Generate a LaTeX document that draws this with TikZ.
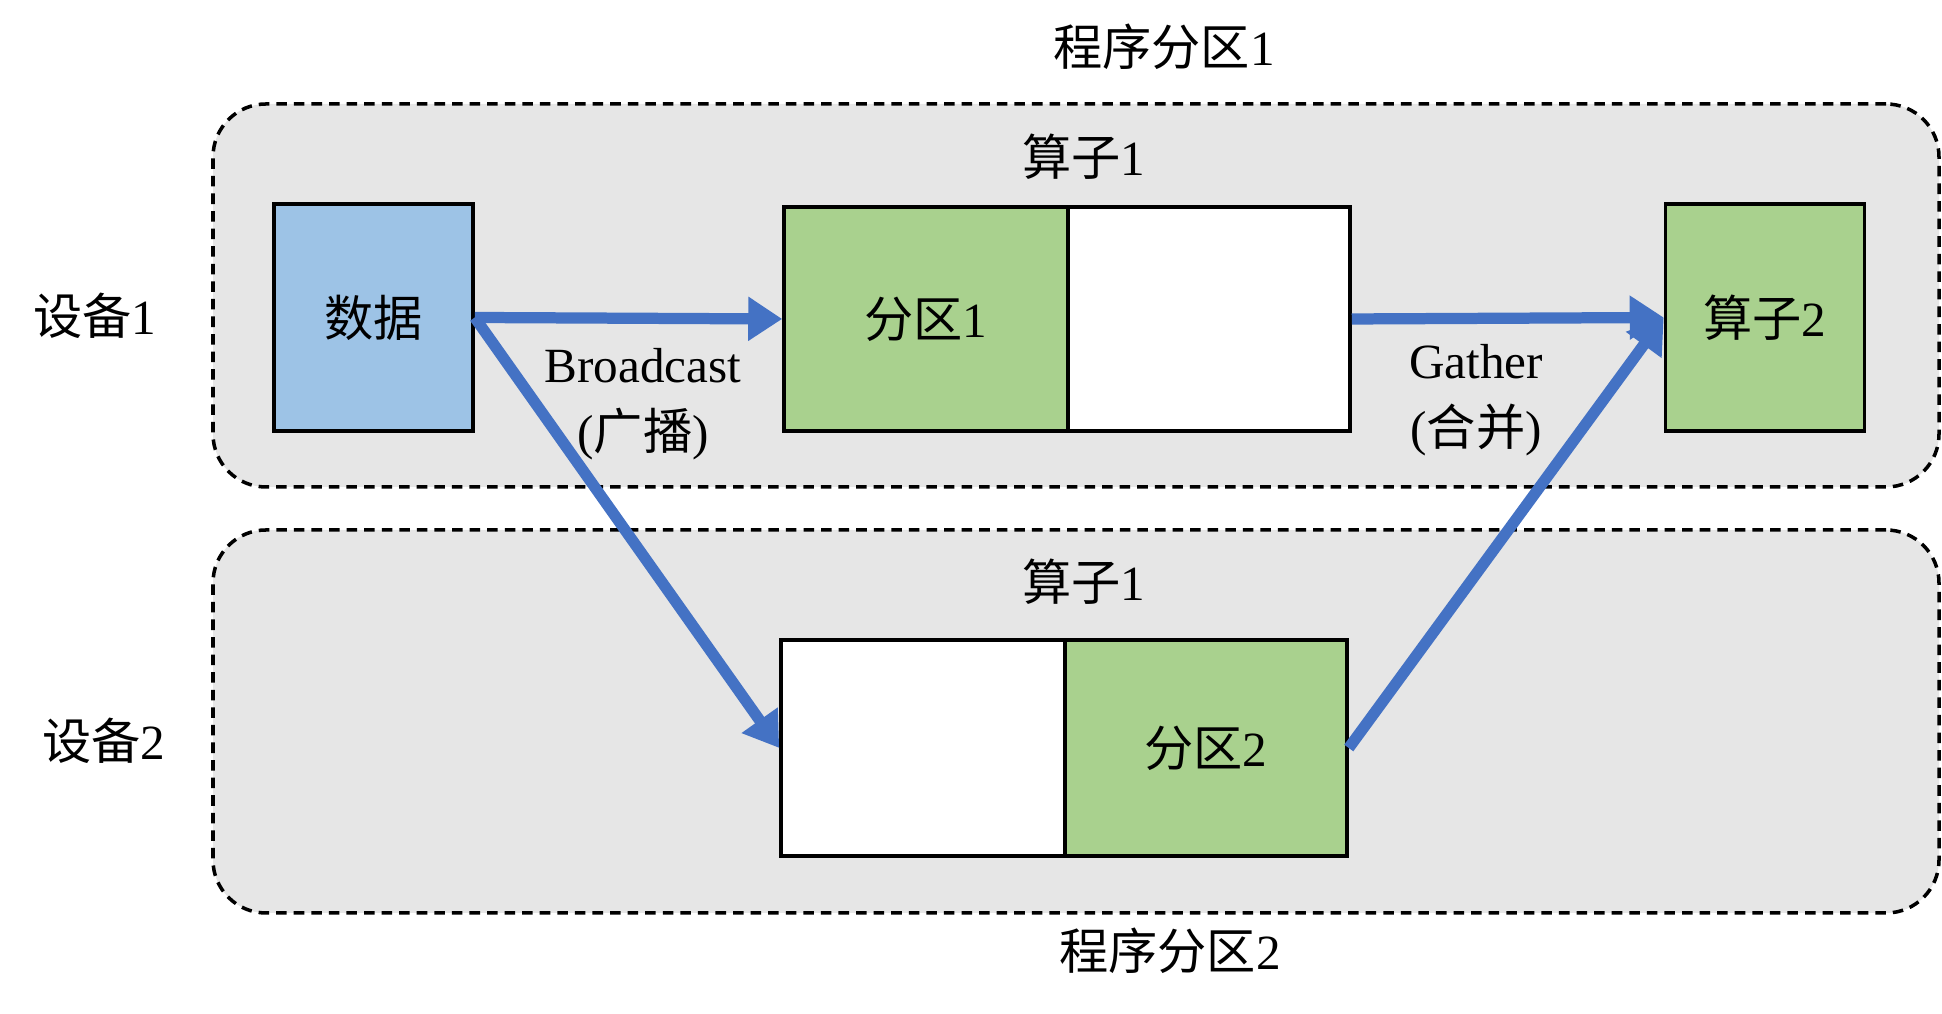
\documentclass[tikz,border=0pt]{standalone}
\usepackage{fontspec}
\setmainfont{Liberation Serif}
\newfontfamily\cjk{Noto Sans CJK SC}
\usetikzlibrary{arrows.meta}
\definecolor{bgGray}{HTML}{E6E6E6}
\definecolor{dataBlue}{HTML}{9DC3E6}
\definecolor{partGreen}{HTML}{A9D18E}
\definecolor{arrowBlue}{HTML}{4472C4}
\begin{document}
\begin{tikzpicture}[
    font=\fontsize{14}{17}\selectfont,
    group/.style={draw, dash pattern=on 3pt off 2pt, line width=1pt, rounded corners=0.53cm, fill=bgGray, minimum width=17.26cm, minimum height=3.83cm},
    box/.style={draw, line width=1pt, inner sep=0pt},
    flow/.style={-{Triangle[length=3.4mm,width=4.2mm]}, line width=3.2pt, arrowBlue}
]
\useasboundingbox (0,0) rectangle (19.42,10.14);
\node[group] (dev1) at (10.76,7.185) {};
\node[group] (dev2) at (10.76,2.925) {};

\node (prog1) at (11.64,9.67) {{\cjk 程序分区}1};
\node (prog2) at (11.70,0.63) {{\cjk 程序分区}2};
\node (name1) at (0.95,6.98) {{\cjk 设备}1};
\node (name2) at (1.04,2.73) {{\cjk 设备}2};
\node (op1a) at (10.84,8.57) {{\cjk 算子}1};
\node (op1b) at (10.84,4.32) {{\cjk 算子}1};

\node[box, fill=dataBlue, minimum width=1.99cm, minimum height=2.27cm] (data) at (3.735,6.965) {\cjk 数据};
\node[box, fill=partGreen, minimum width=2.84cm, minimum height=2.24cm] (part1) at (9.26,6.95) {{\cjk 分区}1};
\node[box, fill=white, minimum width=2.82cm, minimum height=2.24cm] (idle1) at (12.09,6.95) {};
\node[box, fill=partGreen, minimum width=1.99cm, minimum height=2.27cm] (op2) at (17.65,6.965) {{\cjk 算子}2};
\node[box, fill=white, minimum width=2.84cm, minimum height=2.16cm] (idle2) at (9.23,2.66) {};
\node[box, fill=partGreen, minimum width=2.82cm, minimum height=2.16cm] (part2) at (12.06,2.66) {{\cjk 分区}2};

\draw[flow] (data.east) -- (part1.west);
\draw[flow] (data.east) -- (idle2.west);
\draw[flow] (idle1.east) -- (op2.west);
\draw[flow] (part2.east) -- (op2.west);

\node[align=center] (bcast) at (6.43,6.10) {Broadcast\\[2pt]({\cjk 广播})};
\node[align=center] (gath) at (14.76,6.14) {Gather\\[2pt]({\cjk 合并})};
\end{tikzpicture}
\end{document}
